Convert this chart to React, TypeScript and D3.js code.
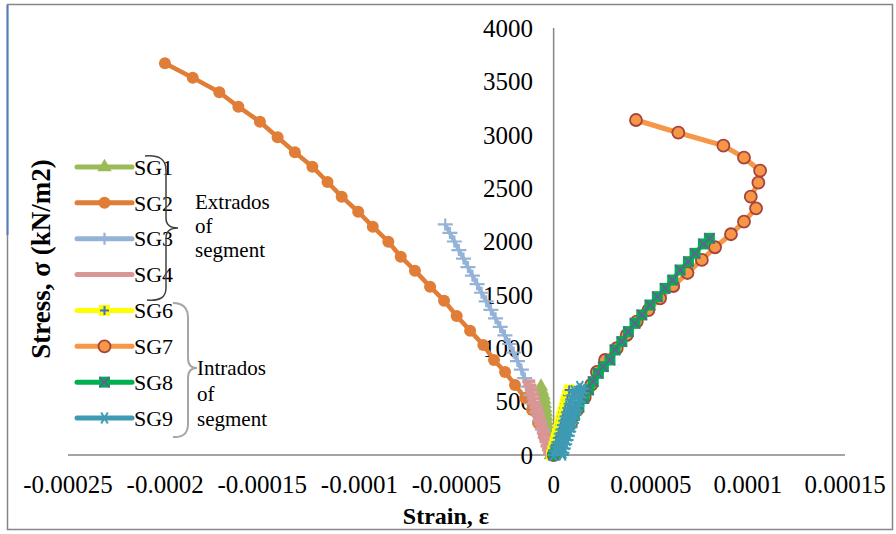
import * as d3 from 'd3';

const W = 896, H = 534;

const xTicks = [-0.00025, -0.0002, -0.00015, -0.0001, -0.00005, 0, 0.00005, 0.0001, 0.00015];
const xTickLabels = ['-0.00025', '-0.0002', '-0.00015', '-0.0001', '-0.00005', '0', '0.00005', '0.0001', '0.00015'];
const yTicks = [0, 500, 1000, 1500, 2000, 2500, 3000, 3500, 4000];

// [strain, stress kN/m2]
const sg1 = [[-6.5e-6, 640], [-6.0e-6, 600], [-5.2e-6, 560], [-4.8e-6, 520], [-4.6e-6, 480], [-4.3e-6, 440], [-4.0e-6, 400], [-3.8e-6, 360], [-3.6e-6, 320], [-3.4e-6, 280], [-3.2e-6, 240], [-3.0e-6, 200], [-2.8e-6, 160], [-2.6e-6, 120], [-2.3e-6, 80], [-2.0e-6, 40], [-1.5e-6, 0]];

const sg2 = [[-200.1e-6, 3669], [-185.8e-6, 3535], [-172.1e-6, 3398], [-162.3e-6, 3263], [-151.2e-6, 3122], [-142.1e-6, 2976], [-133.2e-6, 2836], [-124.2e-6, 2701], [-116.4e-6, 2557], [-109.1e-6, 2420], [-100.6e-6, 2279], [-93.1e-6, 2139], [-85.1e-6, 1998], [-78.7e-6, 1858], [-71.4e-6, 1727], [-63.6e-6, 1577], [-56.4e-6, 1446], [-49.9e-6, 1302], [-43.0e-6, 1165], [-36.2e-6, 1030], [-30.7e-6, 890], [-25.0e-6, 778], [-19.9e-6, 656], [-14.7e-6, 534], [-11.1e-6, 421], [-8.0e-6, 300], [-5.0e-6, 180], [-2.2e-6, 60], [0, 0]];

const sg3 = [[-55.8e-6, 2160], [-53.4e-6, 2080], [-51.1e-6, 2000], [-48.8e-6, 1920], [-46.4e-6, 1840], [-44.1e-6, 1760], [-41.8e-6, 1680], [-39.4e-6, 1600], [-37.1e-6, 1520], [-34.7e-6, 1440], [-32.3e-6, 1360], [-29.9e-6, 1280], [-27.5e-6, 1200], [-25.1e-6, 1120], [-22.7e-6, 1040], [-20.6e-6, 960], [-18.6e-6, 880], [-16.6e-6, 800], [-14.9e-6, 720], [-13.3e-6, 640], [-11.8e-6, 560], [-10.3e-6, 480], [-8.8e-6, 400], [-7.3e-6, 320], [-5.8e-6, 240], [-4.3e-6, 160], [-2.8e-6, 80], [-1.3e-6, 0]];

const sg4 = [[-12.8e-6, 690], [-12.2e-6, 650], [-11.5e-6, 610], [-10.9e-6, 570], [-10.4e-6, 530], [-9.8e-6, 490], [-9.1e-6, 450], [-8.5e-6, 410], [-7.9e-6, 370], [-7.3e-6, 330], [-6.6e-6, 290], [-6.0e-6, 250], [-5.3e-6, 210], [-4.7e-6, 170], [-4.0e-6, 130], [-3.3e-6, 90], [-2.6e-6, 50], [-2.0e-6, 10]];

const sg6 = [[-1.0e-6, 0], [-0.4e-6, 40], [0.2e-6, 80], [0.8e-6, 120], [1.4e-6, 160], [2.0e-6, 200], [2.6e-6, 240], [3.1e-6, 280], [3.7e-6, 320], [4.2e-6, 360], [4.8e-6, 400], [5.4e-6, 440], [6.0e-6, 480], [6.6e-6, 520], [7.2e-6, 560], [8.0e-6, 610]];

const sg7 = [[0, 0], [2.0e-6, 60], [5.0e-6, 180], [9.0e-6, 300], [12.0e-6, 420], [16.0e-6, 540], [19.3e-6, 656], [22.3e-6, 778], [26.5e-6, 890], [32.5e-6, 1000], [37.6e-6, 1124], [42.8e-6, 1249], [48.8e-6, 1358], [54.8e-6, 1468], [61.6e-6, 1583], [68.9e-6, 1705], [76.3e-6, 1827], [83.1e-6, 1946], [91.3e-6, 2068], [98.0e-6, 2186], [104.2e-6, 2311], [101.5e-6, 2420], [105.4e-6, 2551], [106.3e-6, 2663], [98.0e-6, 2785], [87.4e-6, 2898], [64.2e-6, 3019], [42.4e-6, 3138]];

const sg8 = [[0, 0], [1.3e-6, 50], [3.5e-6, 130], [5.8e-6, 210], [8.2e-6, 290], [10.6e-6, 370], [13.0e-6, 450], [15.5e-6, 530], [18.0e-6, 610], [20.4e-6, 687], [23.0e-6, 765], [25.6e-6, 828], [29.0e-6, 890], [31.6e-6, 984], [35.1e-6, 1062], [38.5e-6, 1156], [41.9e-6, 1234], [45.4e-6, 1312], [49.6e-6, 1405], [53.4e-6, 1483], [57.4e-6, 1561], [61.3e-6, 1639], [65.1e-6, 1733], [69.4e-6, 1811], [72.8e-6, 1889], [77.1e-6, 1977], [80.2e-6, 2030]];

const sg9 = [[0, 0], [0.8e-6, 40], [1.5e-6, 80], [2.2e-6, 120], [2.9e-6, 160], [3.6e-6, 200], [4.3e-6, 240], [5.0e-6, 280], [5.7e-6, 320], [6.4e-6, 360], [7.1e-6, 400], [7.8e-6, 440], [8.5e-6, 480], [9.2e-6, 520], [9.9e-6, 560], [10.6e-6, 600], [13.5e-6, 640], [15.2e-6, 620], [14.6e-6, 580], [13.9e-6, 540], [13.2e-6, 500], [12.5e-6, 460], [11.8e-6, 420], [11.1e-6, 380], [10.4e-6, 340], [9.7e-6, 300], [9.0e-6, 260], [8.3e-6, 220], [7.6e-6, 180], [6.9e-6, 140], [6.2e-6, 100], [5.5e-6, 60], [4.8e-6, 20], [4.5e-6, 0]];

const series = [
    { name: 'SG1', data: sg1, color: '#9BBB59', width: 4, marker: 'triangle' },
    { name: 'SG2', data: sg2, color: '#E07D36', width: 4.5, marker: 'dot' },
    { name: 'SG3', data: sg3, color: '#95B3D7', width: 4, marker: 'plus' },
    { name: 'SG4', data: sg4, color: '#D99694', width: 4, marker: 'dash' },
    { name: 'SG6', data: sg6, color: '#FFFF00', width: 4, marker: 'yplus' },
    { name: 'SG7', data: sg7, color: '#F79646', width: 5, marker: 'ring' },
    { name: 'SG8', data: sg8, color: '#00B050', width: 4.5, marker: 'xsquare' },
    { name: 'SG9', data: sg9, color: '#3F9AB4', width: 4, marker: 'star' },
];

const font = "'Liberation Serif', 'Times New Roman', serif";

const Marker = ({ type, color, cx, cy }) => {
    const t = `translate(${cx},${cy})`;
    switch (type) {
        case 'triangle':
            return <path transform={t} d={d3.symbol(d3.symbolTriangle, 90)()} fill={color} />;
        case 'dot':
            return <circle cx={cx} cy={cy} r={6} fill={color} />;
        case 'plus':
            return <path transform={t} d="M-7.5,0H7.5M0,-6V6" stroke={color} strokeWidth={2.2} fill="none" />;
        case 'dash':
            return <rect x={cx - 6.5} y={cy - 2} width={13} height={4} fill={color} />;
        case 'yplus':
            return (
                <g transform={t}>
                    <rect x={-5.5} y={-5.5} width={11} height={11} fill="#FFFF00" />
                    <path d="M-4.5,0H4.5M0,-4.5V4.5" stroke="#4472C4" strokeWidth={2} />
                </g>
            );
        case 'ring':
            return <circle cx={cx} cy={cy} r={6} fill={color} stroke="#A4443B" strokeWidth={1.8} />;
        case 'xsquare':
            return (
                <g transform={t}>
                    <rect x={-5.5} y={-5.5} width={11} height={11} fill="#00B050" />
                    <path d="M-5,-5L5,5M-5,5L5,-5" stroke="#6A5B9A" strokeWidth={1.8} />
                </g>
            );
        case 'star':
            return <path transform={t} d="M-6.5,0H6.5M-3.3,-5.6L3.3,5.6M-3.3,5.6L3.3,-5.6" stroke={color} strokeWidth={2} fill="none" />;
        default:
            return null;
    }
};

const App = () => {
    const x = d3.scaleLinear().domain([-0.00025, 0.00015]).range([68, 845]);
    const y = d3.scaleLinear().domain([0, 4000]).range([455, 28]);

    const line = d3.line().x((d) => x(d[0])).y((d) => y(d[1]));

    const legendY = d3.scalePoint().domain(series.map((s) => s.name)).range([167, 418]);

    return (
        <svg width={W} height={H} style={{ position: 'absolute', left: 0, top: 0, background: '#fff' }}>
            <rect x={7.5} y={4.5} width={885} height={525} fill="#fff" stroke="#868686" strokeWidth={1.5} />
            <line x1={7.5} x2={7.5} y1={5} y2={235} stroke="#4F81BD" strokeWidth={2} />

            {/* axes */}
            <line x1={x(-0.00025)} x2={x(0.00015)} y1={y(0)} y2={y(0)} stroke="#868686" strokeWidth={1.5} />
            <line x1={x(0)} x2={x(0)} y1={y(0)} y2={y(4000)} stroke="#868686" strokeWidth={1.5} />

            {yTicks.map((t) => (
                <text key={t} x={533} y={y(t)} dy="0.35em" textAnchor="end" fontFamily={font} fontSize={25}>{t}</text>
            ))}
            {xTicks.map((t, i) => (
                <text key={t} x={x(t)} y={493} textAnchor="middle" fontFamily={font} fontSize={25}>{xTickLabels[i]}</text>
            ))}

            <text x={446} y={524} textAnchor="middle" fontFamily={font} fontSize={24} fontWeight="bold">Strain, ε</text>
            <text transform="translate(50,259) rotate(-90)" textAnchor="middle" fontFamily={font} fontSize={27} fontWeight="bold">Stress, σ (kN/m2)</text>

            {/* series */}
            {series.map((s) => (
                <g key={s.name}>
                    <path d={line(s.data)} fill="none" stroke={s.color} strokeWidth={s.width} strokeLinejoin="round" />
                    {s.data.map((d, i) => (
                        <Marker key={i} type={s.marker} color={s.color} cx={x(d[0])} cy={y(d[1])} />
                    ))}
                </g>
            ))}

            {/* legend */}
            {series.map((s) => (
                <g key={s.name}>
                    <line x1={77} x2={132} y1={legendY(s.name)} y2={legendY(s.name)} stroke={s.color} strokeWidth={5} strokeLinecap="round" />
                    <Marker type={s.marker} color={s.color} cx={104.5} cy={legendY(s.name)} />
                    <text x={134} y={legendY(s.name)} dy="0.35em" fontFamily={font} fontSize={22}>{s.name}</text>
                </g>
            ))}

            <path d="M145,156 Q166,154 166,170 L166,218 Q166,228 178,228 Q166,228 166,238 L166,288 Q166,302 147,300" fill="none" stroke="#404040" strokeWidth={1.5} />
            <path d="M173,303 Q188,303 188,318 L188,358 Q188,368 197,368 Q188,368 188,378 L188,424 Q188,438 173,437" fill="none" stroke="#A6A6A6" strokeWidth={2} />

            <text fontFamily={font} fontSize={21}>
                <tspan x={195} y={209}>Extrados</tspan>
                <tspan x={195} y={233}>of</tspan>
                <tspan x={195} y={257}>segment</tspan>
            </text>
            <text fontFamily={font} fontSize={21}>
                <tspan x={197} y={375}>Intrados</tspan>
                <tspan x={197} y={401}>of</tspan>
                <tspan x={197} y={426}>segment</tspan>
            </text>
        </svg>
    );
};

export default App;
